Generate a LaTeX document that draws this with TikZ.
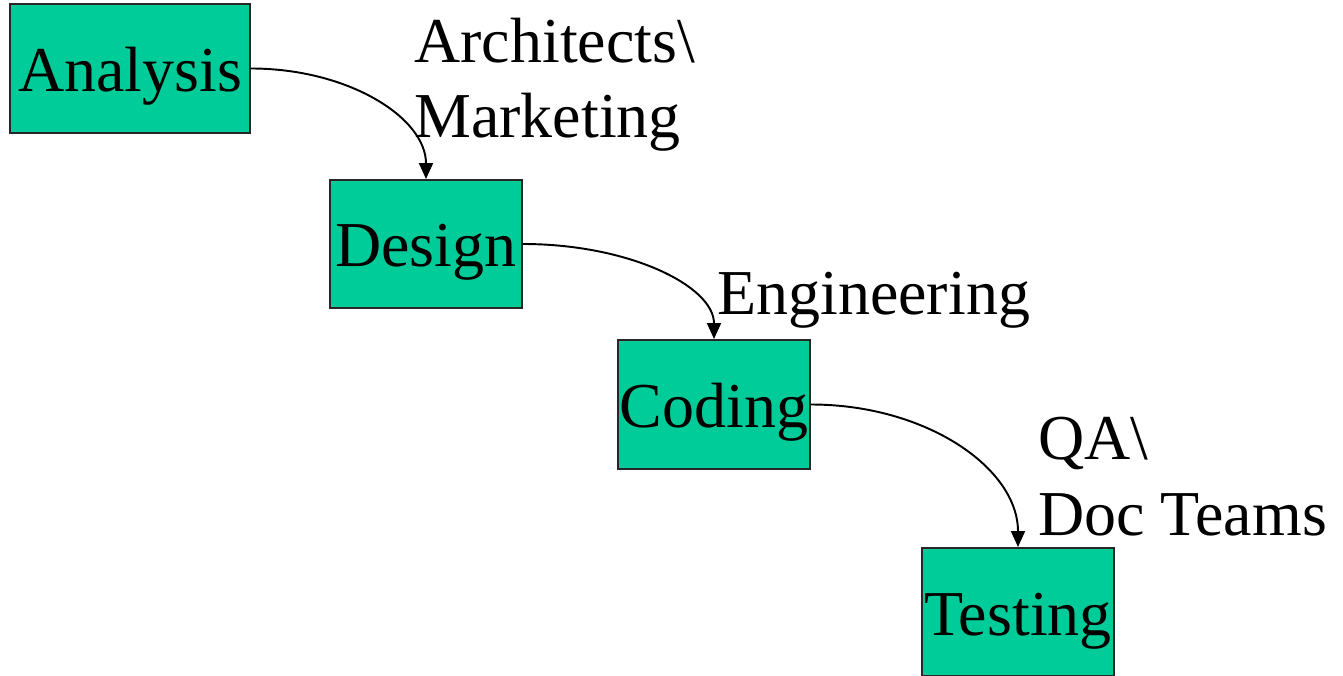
\documentclass[tikz,border=0pt]{standalone}
\usepackage{fontspec}
\setmainfont{Liberation Serif}
\newfontfamily\phasefont{Liberation Serif}
\usetikzlibrary{arrows.meta}

\definecolor{phasegreen}{RGB}{0,204,153}

\begin{document}
\begin{tikzpicture}[
    every node/.style={font=\phasefont\fontsize{36.4pt}{42.7pt}\selectfont},
    phase/.style={draw=black!85, line width=1.1pt, fill=phasegreen,
        minimum width=3.84cm, minimum height=2.56cm, inner sep=0pt,
        text height=0.92cm, text depth=0pt},
    team/.style={anchor=base west, align=left, inner sep=0pt},
    flow/.style={line width=1.1pt, -{Triangle[length=0.32cm, width=0.28cm]}}
]
    \useasboundingbox (0, 0) rectangle (26.86, 13.5);

    % The four phases, stepping down
    \node[phase, minimum width=4.8cm, minimum height=2.58cm] (analysis) at (2.6, 12.13) {Analysis};
    \node[phase] (design) at (8.52, 8.62) {Design};
    \node[phase, minimum height=2.58cm] (coding) at (14.28, 5.41) {Coding};
    \node[phase] (testing) at (20.36, 1.26) {Testing};

    % Teams next to each hand-over (base is the last line)
    \node[team] (archmkt) at (8.28, 10.74) {Architects\textbackslash\\Marketing};
    \node[team] (eng) at (14.34, 7.2) {Engineering};
    \node[team] (qadoc) at (20.76, 2.8) {QA\textbackslash\\Doc Teams};

    % Hand-overs (quarter ellipses)
    \draw[flow] (analysis.east) .. controls +(1.94, 0) and +(0, 1.23) .. (design.north);
    \draw[flow] (design.east) .. controls +(2.12, 0) and +(0, 1.06) .. (coding.north);
    \draw[flow] (coding.east) .. controls +(2.3, 0) and +(0, 1.58) .. (testing.north);
\end{tikzpicture}
\end{document}
